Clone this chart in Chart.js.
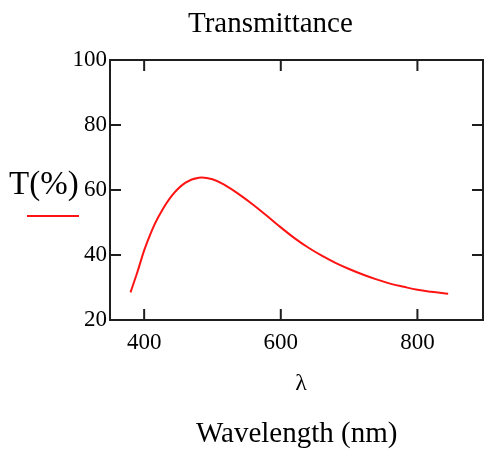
<!DOCTYPE html>
<html>
<head>
<meta charset="utf-8">
<script src="https://cdn.jsdelivr.net/npm/chart.js@4.4.1/dist/chart.umd.min.js"></script>
<style>
  html, body { margin: 0; padding: 0; background: #fff; }
  #plot { display: block; }
</style>
</head>
<body>
<canvas id="plot" width="484" height="451"></canvas>
<script>
// values
const wavelengths = [380, 390, 400, 410, 420, 440, 460, 480, 500, 520, 540, 560, 580,
  600, 620, 640, 660, 680, 700, 720, 740, 760, 780, 800, 820, 845];
const transmittance = [28.5, 34.7, 41.4, 46.9, 51.4, 58.1, 62.2, 63.8, 63.3, 61.3, 58.5, 55.4, 52.0,
  48.5, 45.2, 42.3, 39.8, 37.6, 35.7, 34.0, 32.5, 31.2, 30.2, 29.3, 28.7, 28.1];
const xTicks = [400, 600, 800];
const yTicks = [20, 40, 60, 80, 100];

const serif = '"Liberation Serif", "Times New Roman", serif';
const red = '#ff1414';
const axisColor = '#1e1e1e';

const frameAndLabels = {
  id: 'frame_and_labels',
  afterDraw: (chart) => {
    const ctx = chart.ctx;
    const area = chart.chartArea;
    const xs = chart.scales.x;
    const ys = chart.scales.y;
    const tick = 11;
    ctx.save();
    ctx.strokeStyle = axisColor;
    ctx.lineWidth = 2;
    ctx.strokeRect(area.left, area.top, area.right - area.left, area.bottom - area.top);
    ctx.beginPath();
    xTicks.forEach(function(v) {
      const px = xs.getPixelForValue(v);
      ctx.moveTo(px, area.bottom);
      ctx.lineTo(px, area.bottom - tick);
      ctx.moveTo(px, area.top);
      ctx.lineTo(px, area.top + tick);
    });
    yTicks.forEach(function(v) {
      const py = ys.getPixelForValue(v);
      ctx.moveTo(area.left, py);
      ctx.lineTo(area.left + tick, py);
      ctx.moveTo(area.right, py);
      ctx.lineTo(area.right - tick, py);
    });
    ctx.stroke();

    ctx.fillStyle = '#000';
    ctx.textBaseline = 'alphabetic';
    ctx.textAlign = 'left';
    ctx.font = '29px ' + serif;
    ctx.fillText('Transmittance', 188, 32);
    ctx.fillText('Wavelength (nm)', 196, 442);
    ctx.font = '33px ' + serif;
    ctx.fillText('T(%)', 9, 194);
    ctx.textAlign = 'center';
    ctx.font = '24px ' + serif;
    ctx.fillText('\u03bb', 301, 390);

    ctx.strokeStyle = red;
    ctx.lineWidth = 2;
    ctx.beginPath();
    ctx.moveTo(27, 216);
    ctx.lineTo(79, 216);
    ctx.stroke();
    ctx.restore();
  }
};

const points = wavelengths.map(function(w, i) {
  return { x: w, y: transmittance[i] };
});

const canvas = document.getElementById('plot');
const chart = new Chart(canvas.getContext('2d'), {
  type: 'line',
  plugins: [frameAndLabels],
  data: {
    datasets: [{
      label: 'T(%)',
      data: points,
      borderColor: red,
      backgroundColor: red,
      borderWidth: 2,
      pointRadius: 0,
      tension: 0.4,
      fill: false,
    }]
  },
  options: {
    responsive: false,
    animation: false,
    devicePixelRatio: 1,
    layout: { padding: { top: 60, right: 1, left: 0, bottom: 0 } },
    plugins: {
      legend: { display: false },
      title: { display: false },
      tooltip: { enabled: false },
    },
    scales: {
      x: {
        type: 'linear',
        min: 350,
        max: 896,
        afterFit: (s) => { s.height = 131; },
        afterBuildTicks: (s) => { s.ticks = xTicks.map(function(v) { return { value: v }; }); },
        grid: { display: false, drawTicks: false },
        border: { display: false },
        ticks: { font: { family: serif, size: 23 }, color: '#000', padding: 9, maxRotation: 0 },
      },
      y: {
        min: 20,
        max: 100,
        afterFit: (s) => { s.width = 110; },
        afterBuildTicks: (s) => { s.ticks = yTicks.map(function(v) { return { value: v }; }); },
        grid: { display: false, drawTicks: false },
        border: { display: false },
        ticks: { font: { family: serif, size: 23 }, color: '#000', padding: 3 },
      }
    }
  }
});
</script>
</body>
</html>
